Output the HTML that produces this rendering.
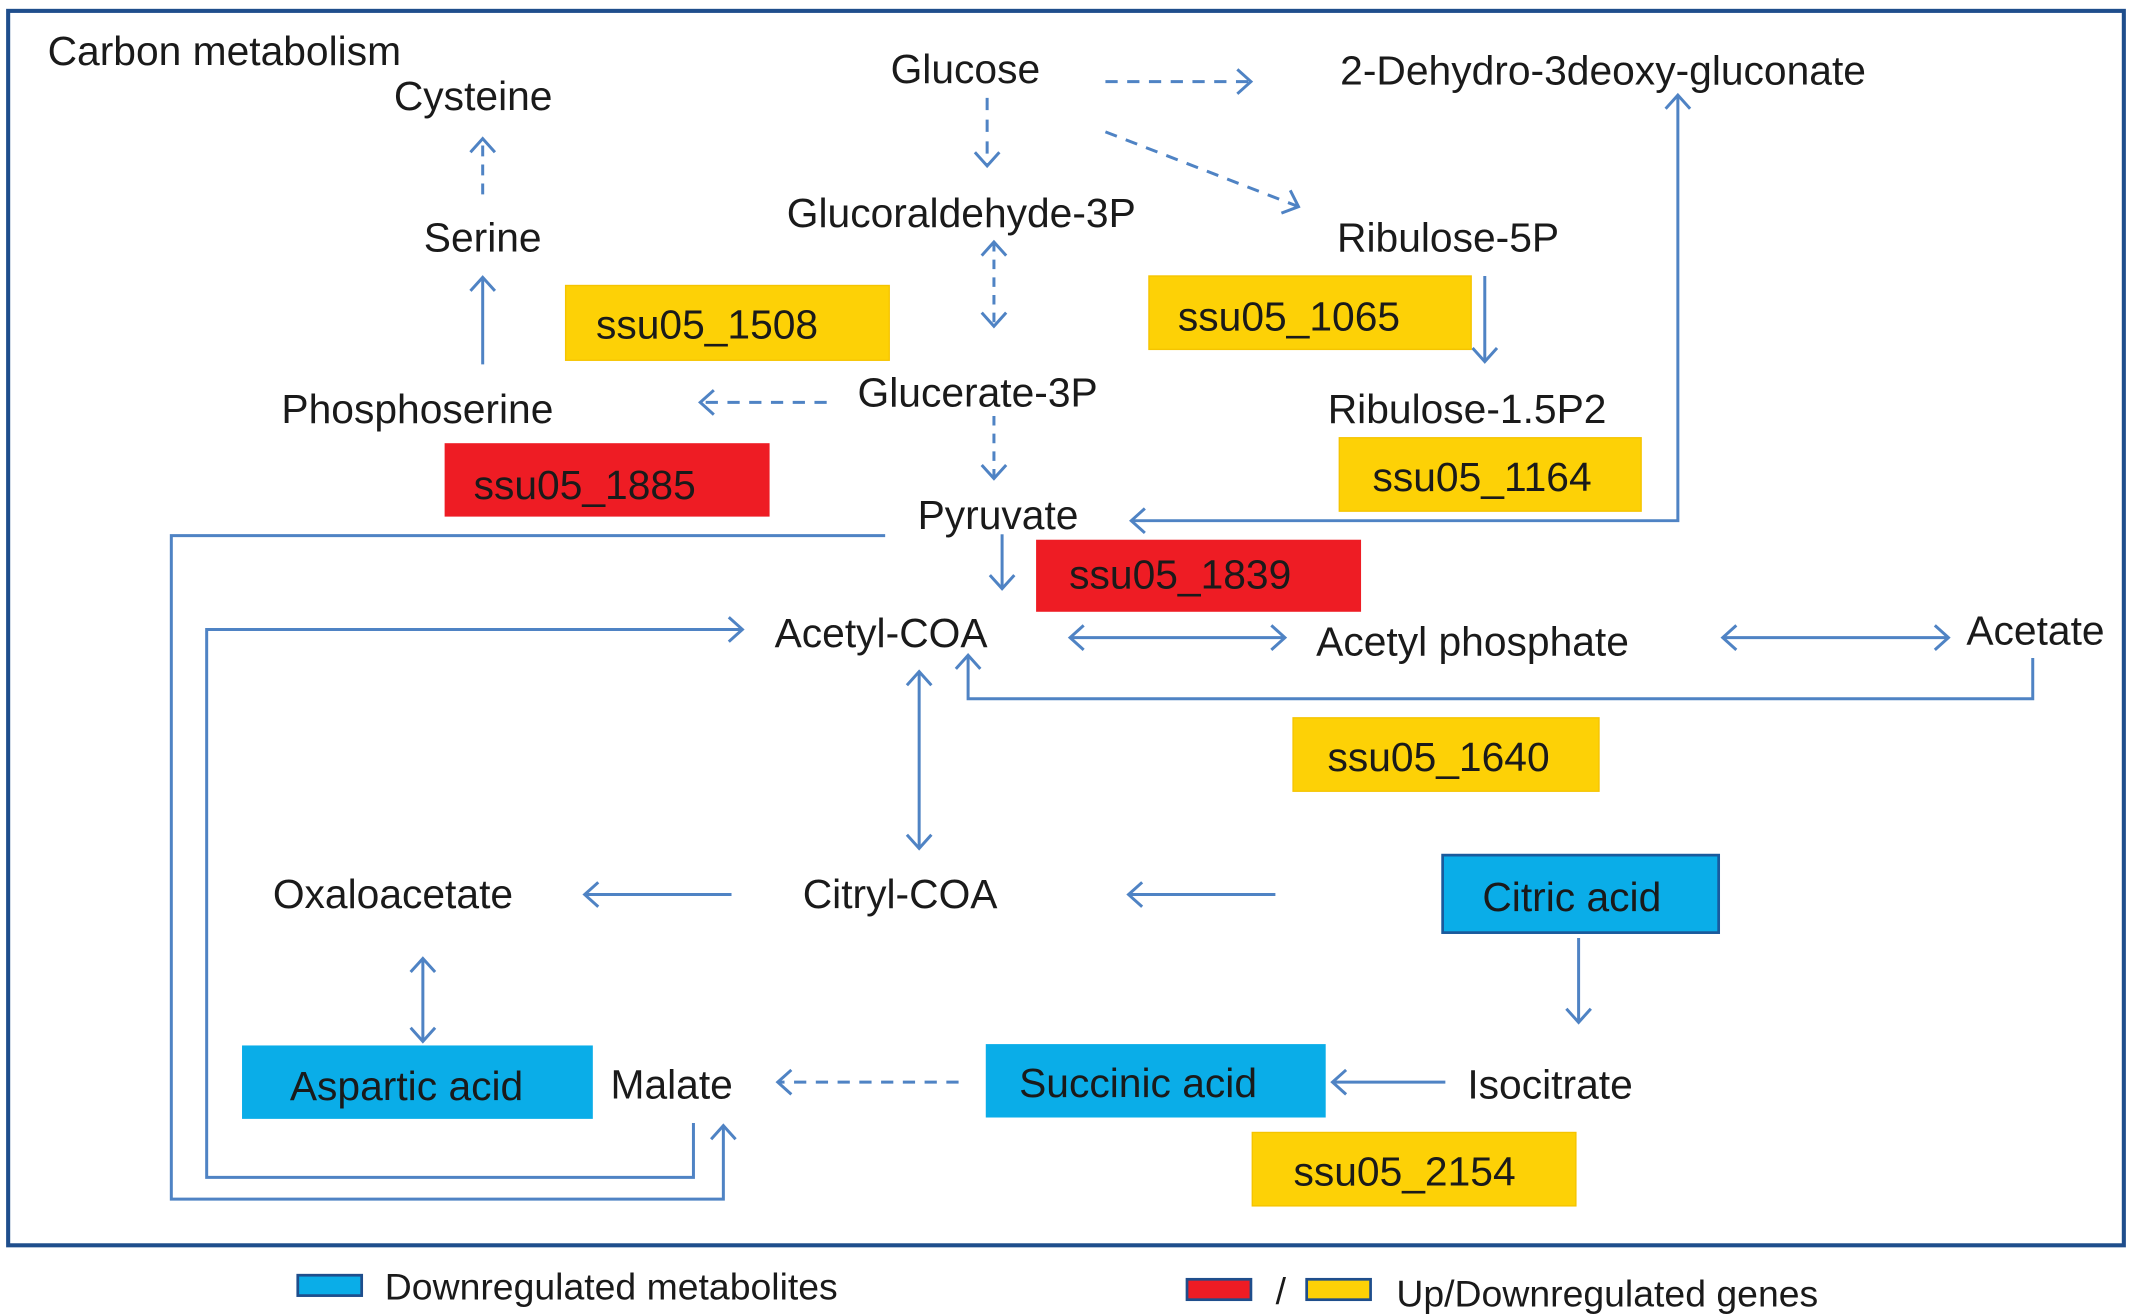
<!DOCTYPE html>
<html><head><meta charset="utf-8"><style>
html,body{margin:0;padding:0;background:#fff;}
svg{display:block;}
text{font-family:"Liberation Sans",Arial,sans-serif;fill:#1a1a1a;}
</style></head><body>
<svg width="2132" height="1316" viewBox="0 0 1568 968" preserveAspectRatio="none" xmlns="http://www.w3.org/2000/svg">
<defs>
<marker id="a" markerUnits="userSpaceOnUse" markerWidth="24" markerHeight="24" refX="12" refY="12" orient="auto-start-reverse" viewBox="0 0 24 24">
<path d="M2,3 L12,12 L2,21" fill="none" stroke="#4f83c4" stroke-width="2.2"/>
</marker>
</defs>
<rect x="6" y="8" width="1556" height="908" fill="#fff" stroke="#1f4e8c" stroke-width="3"/>
<g stroke="#4f83c4" stroke-width="2.2" fill="none">
<line x1="813" y1="60" x2="920" y2="60" stroke-dasharray="9,7" marker-end="url(#a)"/>
<line x1="813" y1="97" x2="955" y2="152" stroke-dasharray="9,7" marker-end="url(#a)"/>
<line x1="726" y1="72" x2="726" y2="122" stroke-dasharray="9,7" marker-end="url(#a)"/>
<line x1="731" y1="178" x2="731" y2="240" stroke-dasharray="7,6" marker-start="url(#a)" marker-end="url(#a)"/>
<line x1="608" y1="296" x2="515" y2="296" stroke-dasharray="9,7" marker-end="url(#a)"/>
<line x1="731" y1="306" x2="731" y2="352" stroke-dasharray="7,6" marker-end="url(#a)"/>
<line x1="355" y1="268" x2="355" y2="204" marker-end="url(#a)"/>
<line x1="355" y1="143" x2="355" y2="102" stroke-dasharray="8,6" marker-end="url(#a)"/>
<line x1="1092" y1="203" x2="1092" y2="266" marker-end="url(#a)"/>
<polyline points="832,383 1234,383 1234,70" marker-start="url(#a)" marker-end="url(#a)"/>
<line x1="737" y1="393" x2="737" y2="433" marker-end="url(#a)"/>
<line x1="787" y1="469" x2="945" y2="469" marker-start="url(#a)" marker-end="url(#a)"/>
<line x1="1267" y1="469" x2="1433" y2="469" marker-start="url(#a)" marker-end="url(#a)"/>
<polyline points="1495,484 1495,514 712,514 712,482" marker-end="url(#a)"/>
<line x1="676" y1="494" x2="676" y2="624" marker-start="url(#a)" marker-end="url(#a)"/>
<line x1="538" y1="658" x2="430" y2="658" marker-end="url(#a)"/>
<line x1="938" y1="658" x2="830" y2="658" marker-end="url(#a)"/>
<line x1="1161" y1="690" x2="1161" y2="752" marker-end="url(#a)"/>
<line x1="1063" y1="796" x2="980" y2="796" marker-end="url(#a)"/>
<line x1="705" y1="796" x2="572" y2="796" stroke-dasharray="9,7" marker-end="url(#a)"/>
<line x1="311" y1="705" x2="311" y2="766" marker-start="url(#a)" marker-end="url(#a)"/>
<polyline points="651,394 126,394 126,882 532,882 532,828" marker-end="url(#a)"/>
<polyline points="510,826 510,866 152,866 152,463 546,463" marker-end="url(#a)"/>
</g>
<g>
<rect x="416" y="210" width="238" height="55" fill="#fdd106" stroke="#f5c400"/>
<rect x="845" y="203" width="237" height="54" fill="#fdd106" stroke="#f5c400"/>
<rect x="327" y="326" width="239" height="54" fill="#ee1c24"/>
<rect x="985" y="322" width="222" height="54" fill="#fdd106" stroke="#f5c400"/>
<rect x="762" y="397" width="239" height="53" fill="#ee1c24"/>
<rect x="951" y="528" width="225" height="54" fill="#fdd106" stroke="#f5c400"/>
<rect x="921" y="833" width="238" height="54" fill="#fdd106" stroke="#f5c400"/>
<rect x="1061" y="629" width="203" height="57" fill="#0aade8" stroke="#1a5a9c" stroke-width="2"/>
<rect x="725" y="768" width="250" height="54" fill="#0aade8"/>
<rect x="178" y="769" width="258" height="54" fill="#0aade8"/>
</g>
<g font-size="30">
<text x="35" y="48">Carbon metabolism</text>
<text x="348" y="81" text-anchor="middle">Cysteine</text>
<text x="355" y="185" text-anchor="middle">Serine</text>
<text x="307" y="311" text-anchor="middle">Phosphoserine</text>
<text x="710" y="61" text-anchor="middle">Glucose</text>
<text x="707" y="167" text-anchor="middle">Glucoraldehyde-3P</text>
<text x="719" y="299" text-anchor="middle">Glucerate-3P</text>
<text x="734" y="389" text-anchor="middle">Pyruvate</text>
<text x="648" y="476" text-anchor="middle">Acetyl-COA</text>
<text x="1083" y="482" text-anchor="middle">Acetyl phosphate</text>
<text x="1497" y="474" text-anchor="middle">Acetate</text>
<text x="1179" y="62" text-anchor="middle">2-Dehydro-3deoxy-gluconate</text>
<text x="1065" y="185" text-anchor="middle">Ribulose-5P</text>
<text x="1079" y="311" text-anchor="middle">Ribulose-1.5P2</text>
<text x="289" y="668" text-anchor="middle">Oxaloacetate</text>
<text x="662" y="668" text-anchor="middle">Citryl-COA</text>
<text x="1156" y="670" text-anchor="middle">Citric acid</text>
<text x="1140" y="808" text-anchor="middle">Isocitrate</text>
<text x="837" y="807" text-anchor="middle">Succinic acid</text>
<text x="494" y="808" text-anchor="middle">Malate</text>
<text x="299" y="809" text-anchor="middle">Aspartic acid</text>
<text x="520" y="249" text-anchor="middle">ssu05_1508</text>
<text x="948" y="243" text-anchor="middle">ssu05_1065</text>
<text x="430" y="367" text-anchor="middle">ssu05_1885</text>
<text x="1090" y="361" text-anchor="middle">ssu05_1164</text>
<text x="868" y="433" text-anchor="middle">ssu05_1839</text>
<text x="1058" y="567" text-anchor="middle">ssu05_1640</text>
<text x="1033" y="872" text-anchor="middle">ssu05_2154</text>
</g>
<rect x="219" y="938" width="47" height="15" fill="#0aade8" stroke="#1f4e8c" stroke-width="2"/>
<text x="283" y="956" font-size="27.5">Downregulated metabolites</text>
<rect x="873" y="941" width="47" height="15" fill="#ee1c24" stroke="#1f4e8c" stroke-width="2"/>
<text x="942" y="959" font-size="27.5" text-anchor="middle">/</text>
<rect x="961" y="941" width="47" height="15" fill="#fdd106" stroke="#1f4e8c" stroke-width="2"/>
<text x="1027" y="961" font-size="27.5">Up/Downregulated genes</text>
</svg>
</body></html>
